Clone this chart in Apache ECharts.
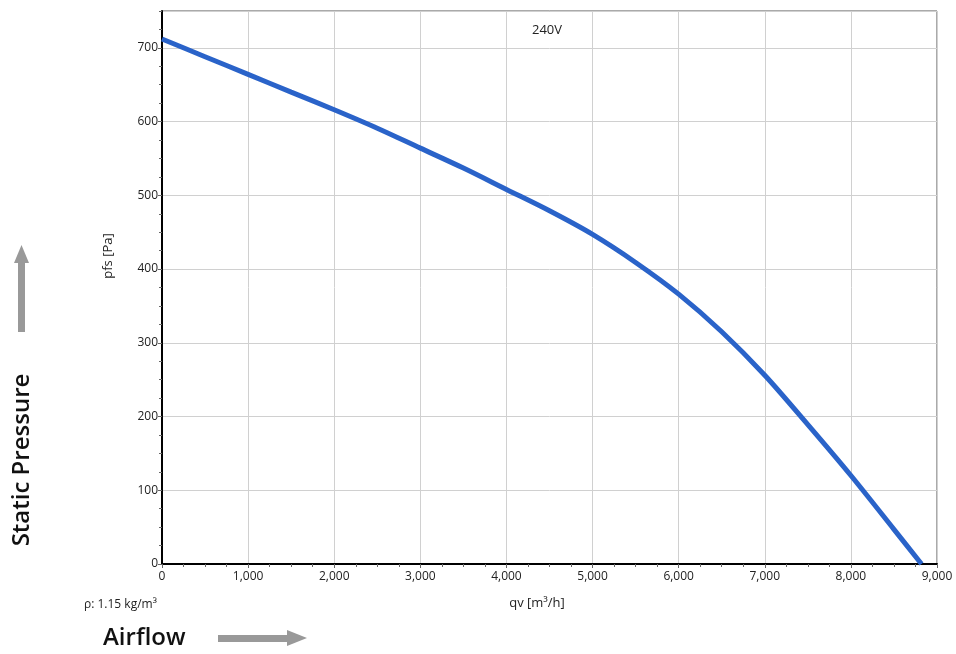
<!DOCTYPE html>
<html><head><meta charset="utf-8">
<script src="https://cdn.jsdelivr.net/npm/echarts@6/dist/echarts.min.js"></script>
<style>html,body{margin:0;padding:0;background:#fff}#c{width:956px;height:654px}</style>
</head><body><div id="c"></div>
<script>
const airflow = [0, 500, 1000, 1500, 2000, 2500, 3000, 3500, 4000, 4500, 5000, 5500, 6000, 6500, 7000, 7500, 8000, 8500, 8820];
const pressure = [712, 688, 664, 640, 616, 591, 564, 537, 508, 479, 447, 409, 366, 315, 256, 189, 120, 47, 0];
const xTicks = [0, 1000, 2000, 3000, 4000, 5000, 6000, 7000, 8000, 9000];
const yTicks = [0, 100, 200, 300, 400, 500, 600, 700];
const titleText = '240V';
const xName = 'qv [m³/h]';
const yName = 'pfs [Pa]';
const densityText = 'ρ: 1.15 kg/m³';

const F = '"Open Sans", "Noto Sans", sans-serif';
const chart = echarts.init(document.getElementById('c'), null, {renderer: 'canvas'});
const fmt = v => v.toLocaleString('en-US');
chart.setOption({
  animation: false,
  grid: {left: 162, right: 19, top: 11, bottom: 90, show: true, borderColor: '#555', borderWidth: 1},
  xAxis: {type: 'value', min: xTicks[0], max: xTicks[xTicks.length - 1], interval: 1000,
    axisLine: {show: true, onZero: false, lineStyle: {color: '#000', width: 2}},
    axisTick: {show: true, length: 4, lineStyle: {color: '#666'}},
    minorTick: {show: true, splitNumber: 4, length: 3, lineStyle: {color: '#666'}},
    axisLabel: {formatter: fmt, fontFamily: F, fontSize: 12, color: '#222', margin: 7},
    splitLine: {show: true, lineStyle: {color: '#d0d0d0', width: 1}}},
  yAxis: [{type: 'value', min: 0, max: 750, interval: 100,
    axisLine: {show: true, onZero: false, lineStyle: {color: '#000', width: 2}},
    axisTick: {show: true, length: 4, lineStyle: {color: '#666'}},
    axisLabel: {showMaxLabel: false, formatter: v => yTicks.includes(v) ? String(v) : '', fontFamily: F, fontSize: 12, color: '#222', margin: 4},
    splitLine: {show: true, lineStyle: {color: '#d0d0d0', width: 1}}},
    {type: 'value', min: 0, max: 750, interval: 25, position: 'left',
    axisLine: {show: false}, axisTick: {show: true, length: 3, lineStyle: {color: '#666'}},
    axisLabel: {show: false}, splitLine: {show: false}}],
  series: [{type: 'line', yAxisIndex: 0, data: airflow.map((x, i) => [x, pressure[i]]),
    smooth: 0.3, showSymbol: false, symbol: 'none',
    lineStyle: {color: '#2a63c9', width: 5}}],
  graphic: [
    {type: 'text', x: 547, y: 30, style: {text: titleText, font: '13px ' + F, fill: '#222', textAlign: 'center', textVerticalAlign: 'middle'}},
    {type: 'text', x: 537, y: 603, style: {text: xName, font: '13px ' + F, fill: '#222', textAlign: 'center', textVerticalAlign: 'middle'}},
    {type: 'text', x: 108, y: 256, rotation: Math.PI / 2, style: {text: yName, font: '13px ' + F, fill: '#222', textAlign: 'center', textVerticalAlign: 'middle'}},
    {type: 'text', x: 84, y: 605, style: {text: densityText, font: '12px ' + F, fill: '#222', textVerticalAlign: 'middle'}},
    {type: 'text', x: 22, y: 460, rotation: Math.PI / 2, style: {text: 'Static Pressure', font: '600 24px ' + F, fill: '#111', textAlign: 'center', textVerticalAlign: 'middle'}},
    {type: 'text', x: 103, y: 638, style: {text: 'Airflow', font: '600 24px ' + F, fill: '#111', textVerticalAlign: 'middle'}},
    {type: 'rect', shape: {x: 18, y: 262, width: 7, height: 70}, style: {fill: '#999'}},
    {type: 'polygon', shape: {points: [[14, 263], [29, 263], [21.5, 245]]}, style: {fill: '#999'}},
    {type: 'rect', shape: {x: 218, y: 635, width: 70, height: 7}, style: {fill: '#999'}},
    {type: 'polygon', shape: {points: [[287, 630], [287, 646], [307, 638]]}, style: {fill: '#999'}}
  ]
});
</script></body></html>
